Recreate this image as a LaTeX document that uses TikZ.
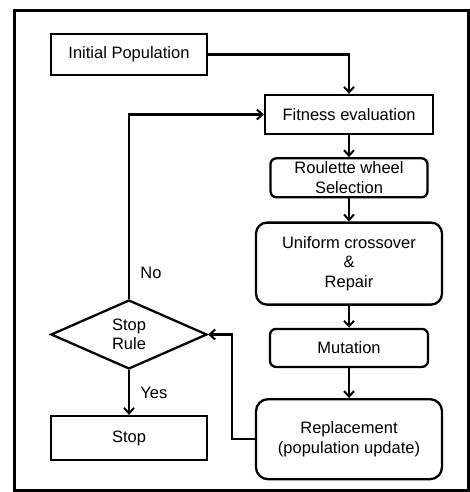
\documentclass[tikz,border=0pt]{standalone}
\usepackage{fontspec}
\setmainfont{Liberation Sans}
\usepackage{tikz}
\usetikzlibrary{arrows.meta, positioning, shapes.geometric}

\begin{document}
\begin{tikzpicture}[
    x=1pt, y=-1pt,
    font=\fontsize{16.5}{19.5}\selectfont,
    box/.style={rectangle, draw=black, line width=2.3pt, align=center, inner sep=0pt},
    roundbox/.style={box, rounded corners=#1},
    decision/.style={diamond, draw=black, line width=2.3pt, align=center, inner sep=0pt, minimum width=156pt, minimum height=69pt, aspect=2.26},
    arrow/.style={-{Straight Barb[length=5.5pt, width=10pt, line width=2pt]}, line width=2.3pt}
]
\useasboundingbox (0,0) rectangle (470,492);
% Rahmen
\draw[line width=3pt] (14,11) rectangle (468,490);

% Linke Spalte
\node[box, minimum width=156pt, minimum height=41pt] (init) at (129,54.5) {Initial Population};
\node[decision] (stoprule) at (129,334.5) {Stop\\Rule};
\node[box, minimum width=156pt, minimum height=44pt] (stop) at (129,438) {Stop};

% Rechte Spalte
\node[box, minimum width=168pt, minimum height=39pt] (fitness) at (349,114.5) {Fitness evaluation};
\node[roundbox=6pt, minimum width=157pt, minimum height=39pt, below=22pt of fitness] (roulette) {Roulette wheel\\Selection};
\node[roundbox=11pt, minimum width=186pt, minimum height=82pt, below=23pt of roulette] (crossover) {Uniform crossover\\\&\\Repair};
\node[roundbox=6pt, minimum width=158pt, minimum height=38pt, below=22pt of crossover] (mutation) {Mutation};
\node[roundbox=12pt, minimum width=186pt, minimum height=80pt, below=30pt of mutation] (replace) {Replacement\\(population update)};

% Verbindungen
\draw[arrow] (init.east) -| (fitness.north -| crossover.north);
\draw[arrow] (fitness.south -| crossover.north) -- (roulette.north -| crossover.north);
\draw[arrow] (roulette.south -| crossover.north) -- (crossover.north);
\draw[arrow] (crossover.south) -- (mutation.north -| crossover.south);
\draw[arrow] (mutation.south -| crossover.south) -- (replace.north -| crossover.south);
\draw[arrow] (replace.west) -- ++(-23,0) |- (stoprule.east);
\draw[arrow] (stoprule.north) |- node[pos=0.07, right=7pt] {No} (fitness.west);
\draw[arrow] (stoprule.south) -- node[pos=0.5, right=7pt] {Yes} (stop.north);

\end{tikzpicture}
\end{document}
